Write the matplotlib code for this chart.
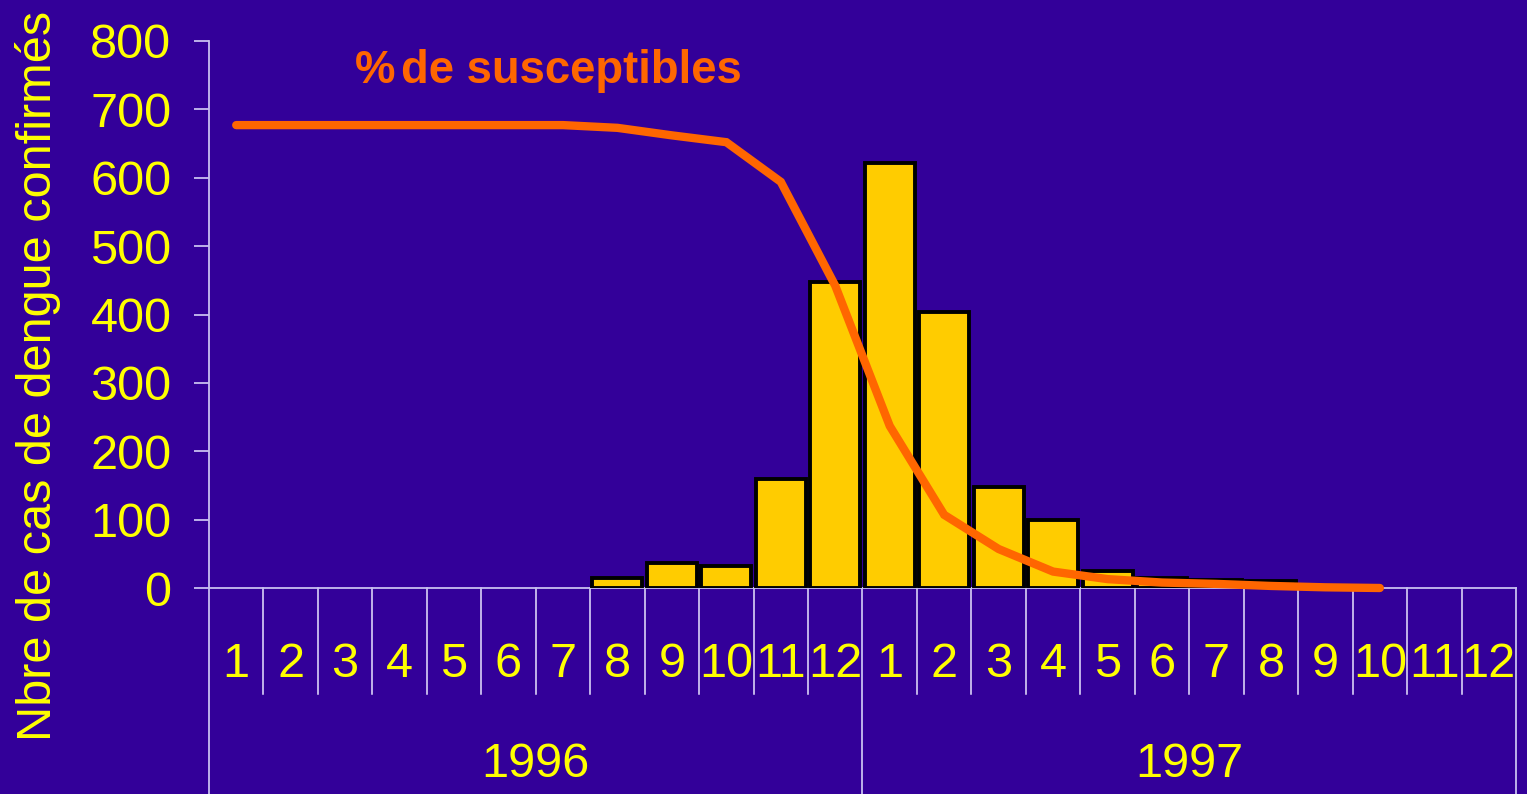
import matplotlib
matplotlib.use("Agg")
import matplotlib.pyplot as plt
import matplotlib.transforms as mtransforms
import numpy as np

# ---- data ----
months = ["1", "2", "3", "4", "5", "6", "7", "8", "9", "10", "11", "12",
          "1", "2", "3", "4", "5", "6", "7", "8", "9", "10", "11", "12"]
years = ["1996", "1997"]
cases = [0, 0, 0, 0, 0, 0, 0, 15, 37, 32, 160, 448,
         621, 404, 148, 99, 25, 15, 11, 10, 0, 0, 0, 0]
susceptibles = [677, 677, 677, 677, 677, 677, 677, 673, 662, 652, 594, 442,
                237, 107, 57, 24, 13, 8, 6, 3, 1, 0, None, None]
yticks = [0, 100, 200, 300, 400, 500, 600, 700, 800]
ylabel = "Nbre de cas de dengue confirmés"
line_label_parts = ["%", "de susceptibles"]

# ---- style ----
BG = "#330099"
YELLOW = "#FFFF00"
BAR = "#FFCC00"
ORANGE = "#FF6600"
AXIS = "#C8C0F0"
SEP = "#E8E4FF"
FONT = ["Liberation Sans", "DejaVu Sans"]
FS = 35

plt.rcParams["font.family"] = FONT

fig = plt.figure(figsize=(15.27, 7.94), dpi=100, facecolor=BG)
ax = fig.add_axes([209 / 1527, 206 / 794, 1307 / 1527, 547 / 794])
ax.set_facecolor(BG)

n = len(months)
x = np.arange(n)

# bars (skip zero months)
bx = [xi for xi, v in zip(x, cases) if v > 0]
bv = [v for v in cases if v > 0]
ax.bar(bx, bv, width=0.92, color=BAR, edgecolor="black", linewidth=2.8, zorder=3)

# susceptibles line
sx = [xi for xi, v in zip(x, susceptibles) if v is not None]
sv = [v for v in susceptibles if v is not None]
ax.plot(sx, sv, color=ORANGE, lw=6, solid_capstyle="round", solid_joinstyle="miter",
        zorder=4, clip_on=False)

ax.text(2.18, 739, line_label_parts[0], color=ORANGE, fontsize=32.8, fontweight="bold",
        ha="left", va="baseline", family=FONT)
ax.text(3.02, 739, line_label_parts[1], color=ORANGE, fontsize=32.8, fontweight="bold",
        ha="left", va="baseline", family=FONT)

ax.set_xlim(-0.5, n - 0.5)
ax.set_ylim(0, 800)
ax.set_yticks(yticks)
ax.set_yticklabels([str(t) for t in yticks], color=YELLOW, fontsize=FS)
ax.tick_params(axis="y", direction="out", length=11, width=1.3, color=AXIS, pad=16)
ax.set_xticks([])

for s in ["top", "right"]:
    ax.spines[s].set_visible(False)
ax.spines["left"].set_color(AXIS)
ax.spines["left"].set_linewidth(1.3)
ax.spines["left"].set_bounds(0, 800)
ax.spines["bottom"].set_color(AXIS)
ax.spines["bottom"].set_linewidth(1.3)

trans = mtransforms.blended_transform_factory(ax.transData, ax.transAxes)

# month labels and separators
for i, m in enumerate(months):
    ax.text(i, -0.1627, m, transform=trans, ha="center", va="baseline",
            color=YELLOW, fontsize=FS, clip_on=False)
for b in range(n + 1):
    if b % 12 == 0:
        ax.plot([b - 0.5, b - 0.5], [0, -0.3766], transform=trans, color=AXIS,
                lw=1.3, clip_on=False, zorder=2)
    else:
        ax.plot([b - 0.5, b - 0.5], [0, -0.1938], transform=trans, color=SEP,
                lw=1.1, clip_on=False, zorder=2)

# year labels
for k, y in enumerate(years):
    ax.text(k * 12 + 5.5, -0.3455, y, transform=trans, ha="center", va="baseline",
            color=YELLOW, fontsize=FS, clip_on=False)

# y label
fig.text(38 / 1527, (794 - 376) / 794, ylabel, rotation=90, ha="center", va="center",
         color=YELLOW, fontsize=FS)

fig.savefig("out.png", dpi=100, facecolor=BG)
